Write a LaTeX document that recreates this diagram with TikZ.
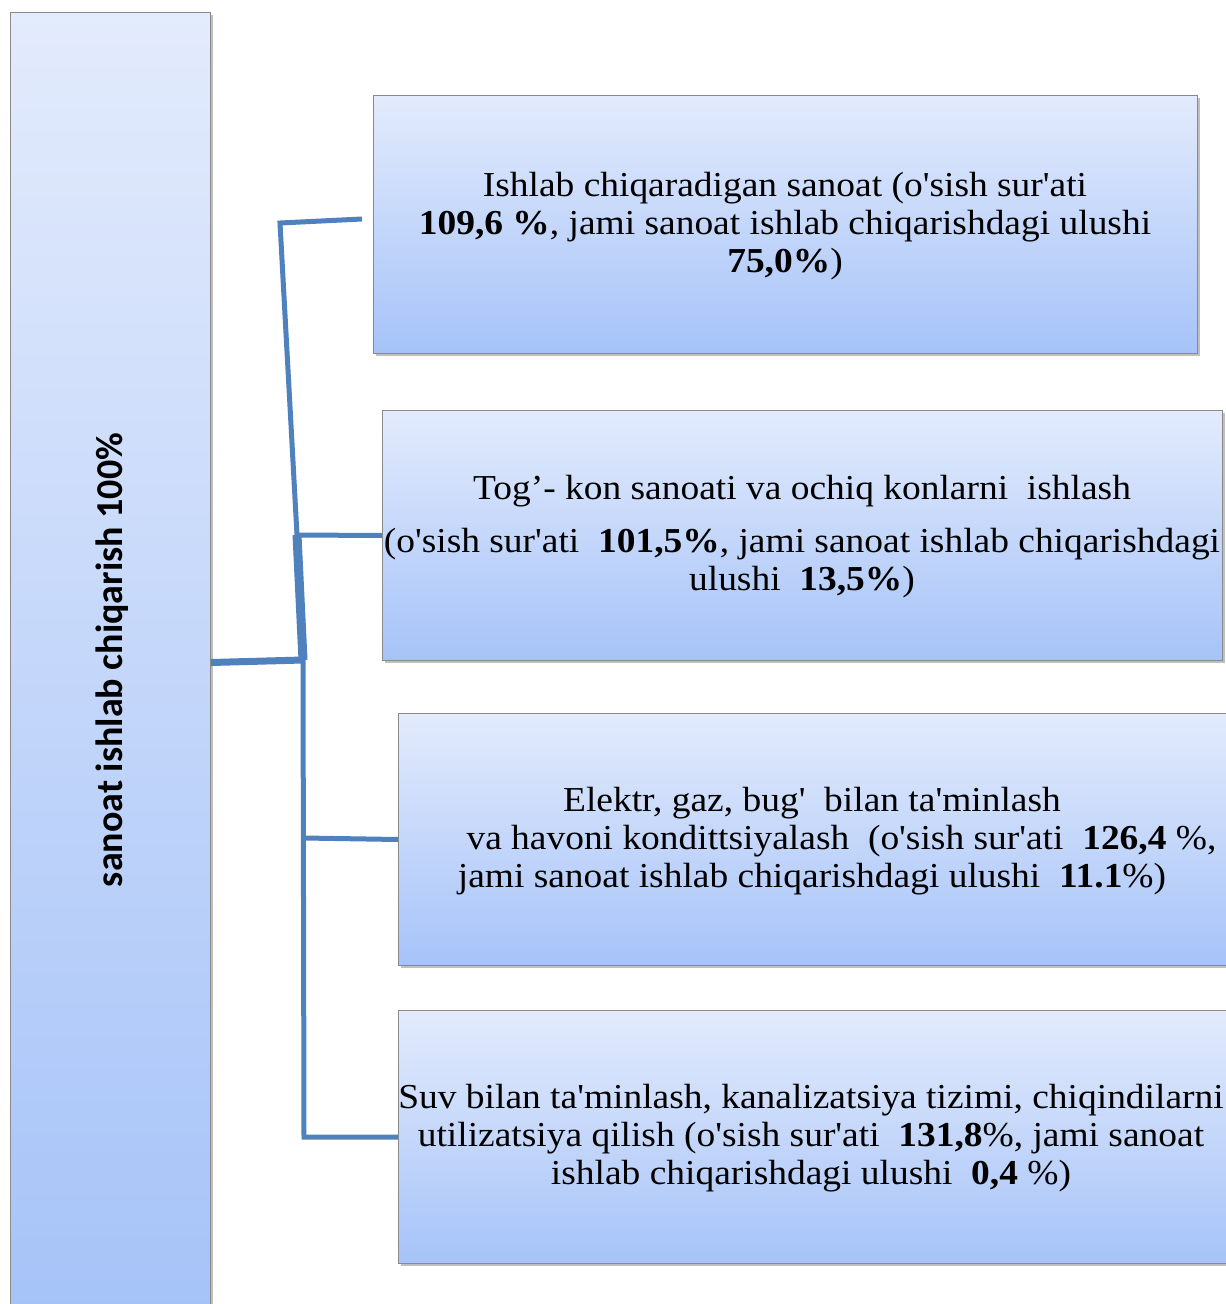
\documentclass[tikz,border=0pt]{standalone}
\usepackage{fontspec}
\setmainfont{Liberation Serif}[Ligatures=TeXOff, FakeStretch=1.07]
\newfontfamily\boxsans{Carlito}
\usetikzlibrary{shadows}
\definecolor{topc}{HTML}{E3EBFC}
\definecolor{botc}{HTML}{A6C3F8}
\definecolor{linec}{HTML}{4F81BD}
\definecolor{edgec}{HTML}{8A8A8A}
\tikzset{
  panel/.style={draw=edgec, line width=1pt, top color=topc, bottom color=botc,
    anchor=north west, inner sep=0pt,
    drop shadow={shadow xshift=2pt, shadow yshift=-2pt, opacity=0.25, fill=black}},
  conn/.style={draw=linec, line width=5pt, line join=miter},
  thickconn/.style={draw=linec, line width=9pt},
  midconn/.style={draw=linec, line width=7pt},
  boxtext/.style={font=\fontsize{35}{38}\selectfont, align=center, inner sep=0pt}
}
\begin{document}
\begin{tikzpicture}[x=1pt,y=-1pt]
\useasboundingbox (0,0) rectangle (1226,1304);
\fill[white] (0,0) rectangle (1226,1304);
\clip (0,0) rectangle (1226,1304);
% left main box
\node[panel, minimum width=200pt, minimum height=1300pt] (main) at (10,12) {};
\node[rotate=90, font=\boxsans\bfseries\fontsize{38}{42}\selectfont] (maintext) at (112,660) {sanoat ishlab chiqarish 100\%};
% right boxes
\node[panel, minimum width=824pt, minimum height=258pt] (b1) at (373,95) {};
\node[panel, minimum width=840pt, minimum height=250pt] (b2) at (382,410) {};
\node[panel, minimum width=830pt, minimum height=252pt] (b3) at (398,713) {};
\node[panel, minimum width=830pt, minimum height=253pt] (b4) at (398,1010) {};
% texts
\node[boxtext] (t1) at (785,226)
 {Ishlab chiqaradigan sanoat (o'sish sur'ati\\ \textbf{109,6 \%}, jami sanoat ishlab chiqarishdagi ulushi\\ \textbf{75,0\%})};
\node[boxtext] (t2) at (802,537)
 {Tog’- kon sanoati va ochiq konlarni\ \ ishlash\\[15pt] (o'sish sur'ati\ \ \textbf{101,5\%}, jami sanoat ishlab chiqarishdagi\\ ulushi\ \ \textbf{13,5\%})};
\node[boxtext] (t3) at (812,841)
 {Elektr, gaz, bug'\ \ bilan ta'minlash\\ \hspace*{59pt}va havoni kondittsiyalash\ \ (o'sish sur'ati\ \ \textbf{126,4} \%,\\ jami sanoat ishlab chiqarishdagi ulushi\ \ \textbf{11.1}\%)};
\node[boxtext] (t4) at (811,1138)
 {Suv bilan ta'minlash, kanalizatsiya tizimi, chiqindilarni\\ utilizatsiya qilish (o'sish sur'ati\ \ \textbf{131,8}\%, jami sanoat\\ ishlab chiqarishdagi ulushi\ \ \textbf{0,4} \%)};
% connectors
\coordinate (j1) at (303,660);
\coordinate (j2) at (297,535);
\coordinate (j3) at (280,223);
\coordinate (e1) at (362,219);
\coordinate (j4) at (304,838);
\coordinate (j5) at (304,1137);
\draw[midconn] (main.east) -- (j1);
\draw[thickconn] (j1) -- (j2);
\draw[conn] (j2) -- (j3) -- (e1);
\draw[conn] (j2) -- (b2.west);
\draw[conn] (j1) -- (j5) -- (b4.west);
\draw[conn] (j4) -- (b3.west);
\end{tikzpicture}
\end{document}
